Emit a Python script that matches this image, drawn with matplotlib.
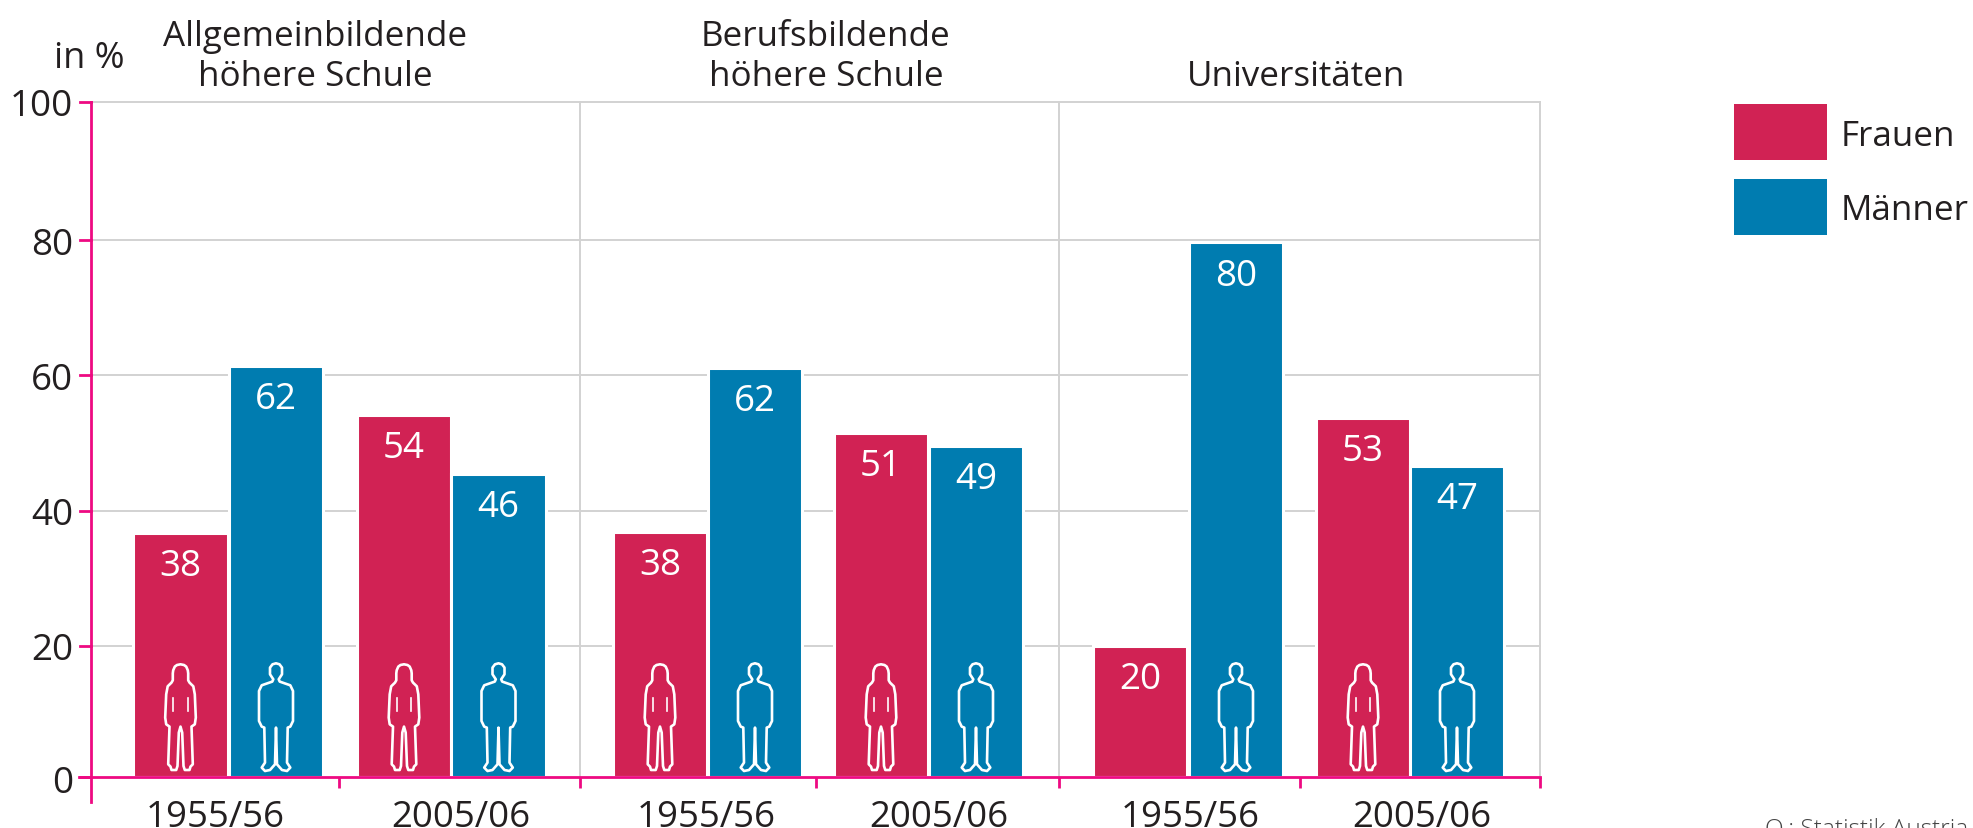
import numpy as np
import matplotlib
matplotlib.use('Agg')
import matplotlib.pyplot as plt
from matplotlib.path import Path
from matplotlib.patches import PathPatch, Rectangle

plt.rcParams['font.family'] = ['Open Sans', 'DejaVu Sans']

W, H = 1973, 829
TXT = '#231f20'
RED = '#d12254'
BLUE = '#007cb0'
PINK = '#ee0a82'
GRID = '#d2d2d2'

groups = ['Allgemeinbildende\nhöhere Schule', 'Berufsbildende\nhöhere Schule', 'Universitäten']
years = ['1955/56', '2005/06'] * 3

# heights as drawn differ a little from the printed labels
frauen_h = [36.2, 53.7, 36.3, 51.0, 19.4, 53.2]
maenner_h = [60.9, 44.9, 60.6, 49.0, 79.2, 46.1]
frauen_lab = [38, 54, 38, 51, 20, 53]
maenner_lab = [62, 46, 62, 49, 80, 47]
y_ticks = [0, 20, 40, 60, 80, 100]
grid_shift = 0.5  # inner grid lines sit a bit low in the original

# x axis runs in image pixels
frauen_x = [180.5, 404, 660, 881, 1140, 1363]
maenner_x = [276, 498.5, 755, 976, 1236, 1457]
year_x = [215, 461, 706, 939, 1190, 1422]
bar_w = 94.5
x_ticks = [339, 580, 816, 1059, 1300, 1540]
seps = [580, 1059]
head_x = [315, 826, 1296]

# pictogram outlines, right half, pixels from centre / above the baseline
woman = [(0, 113), (3.5, 112.3), (5.7, 110.7), (7.3, 107), (7.7, 104), (7.7, 97), (9, 94.7), (12.8, 91), (14.3, 83),
         (15.3, 59.7), (14.3, 53), (11, 50.7), (12.3, 13), (10, 10.7), (9, 7.3), (4.3, 7.3), (3, 11.3),
         (1.7, 44.7), (0, 50.7)]
man = [(0, 114), (3.5, 113), (6, 109.7), (6, 103), (2.7, 98), (3.7, 95.7), (14.3, 92), (17, 86.3),
       (17, 56.3), (14.3, 50.7), (11.7, 49.7), (11, 14.7), (14.3, 9.7), (11, 6.3), (6, 7.3), (1, 13), (0, 49.7)]
woman_marks = [(7.3, 79, 66)]


def mirror(half):
    pts = list(half) + [(-x, y) for x, y in half[-2:0:-1]]
    pts.append(pts[0])
    return np.array(pts, float)


fig = plt.figure(figsize=(W / 100, H / 100), dpi=100)
ax = fig.add_axes([0, 1 - 778.3 / H, 1, (778.3 - 103) / H])
ax.set_xlim(0, W)
ax.set_ylim(0, 100)
ax.patch.set_alpha(0)
unit = 100 / 675.3


def fy(y):
    return 1 - y / H


def tick_pos(v):
    return v if v in (0, 100) else v - grid_shift


def draw_icon(cx, half, marks=()):
    v = mirror(half)
    v = np.column_stack([cx + v[:, 0], v[:, 1] * unit])
    ax.add_patch(PathPatch(Path(v, closed=True), fill=False, ec='white', lw=1.9, joinstyle='round', zorder=4))
    for mx, y0, y1 in marks:
        for s in (-1, 1):
            ax.plot([cx + s * mx, cx + s * mx], [y0 * unit, y1 * unit], color='white', lw=1.2, zorder=4)


# grid and frame
for v in y_ticks[1:]:
    ax.plot([90.5, 1540], [tick_pos(v)] * 2, color=GRID, lw=1.4, zorder=1, clip_on=False)
for x in seps + [1540]:
    ax.plot([x, x], [0, 100], color=GRID, lw=1.4, zorder=1, clip_on=False)

ax.bar(frauen_x, frauen_h, width=bar_w, color=RED, ec='white', lw=2.2, zorder=3)
ax.bar(maenner_x, maenner_h, width=bar_w, color=BLUE, ec='white', lw=2.2, zorder=3)

for i in range(6):
    ax.text(frauen_x[i], frauen_h[i] - 4.9, str(frauen_lab[i]), color='white', fontsize=26.5,
            ha='center', va='center', zorder=5)
    ax.text(maenner_x[i], maenner_h[i] - 4.9, str(maenner_lab[i]), color='white', fontsize=26.5,
            ha='center', va='center', zorder=5)
    # the short Universitäten bar has no room for the figure
    if frauen_h[i] > 25:
        draw_icon(frauen_x[i], woman, woman_marks)
    draw_icon(maenner_x[i], man)
    fig.text(year_x[i] / W, fy(827.5), years[i], color=TXT, fontsize=26.4, ha='center', va='baseline')

# axes
for s in ax.spines.values():
    s.set_visible(False)
ax.spines['bottom'].set_visible(True)
ax.spines['bottom'].set_bounds(79, 1540)
ax.spines['bottom'].set_color(PINK)
ax.spines['bottom'].set_linewidth(2)
ax.spines['bottom'].set_zorder(6)
ax.plot([90.5, 90.5], [-3.7, 100], color=PINK, lw=2, clip_on=False, zorder=6)
ax.set_xticks(x_ticks)
ax.set_xticklabels([])
ax.set_yticks([])
ax.tick_params(axis='x', color=PINK, width=2, length=8)
for v in y_ticks:
    yp = tick_pos(v)
    ax.plot([80, 90.5], [yp, yp], color=PINK, lw=2, clip_on=False, zorder=6)
    ax.text(73, yp - 0.2 if v == 0 else yp, str(v), color=TXT, fontsize=26.5, ha='right', va='center_baseline')

# headings
for x, g in zip(head_x, groups):
    fig.text(x / W, fy(86), g, color=TXT, fontsize=25.2, ha='center', va='baseline', linespacing=1.23)
fig.text(89 / W, fy(68), 'in %', color=TXT, fontsize=26, ha='center', va='baseline')

# legend
for y0, col, lab in [(104.5, RED, 'Frauen'), (179.5, BLUE, 'Männer')]:
    fig.add_artist(Rectangle((1734 / W, fy(y0 + 56)), 92.5 / W, 56 / H, color=col, lw=0, transform=fig.transFigure))
    fig.text(1841 / W, fy(y0 + 28), lab, color=TXT, fontsize=25.2, ha='left', va='center_baseline')

fig.text(1765 / W, fy(836), 'Q.: Statistik Austria', color='#444444', fontsize=17.6, ha='left', va='baseline',
         fontweight='light')

fig.savefig('out.png', dpi=100)
